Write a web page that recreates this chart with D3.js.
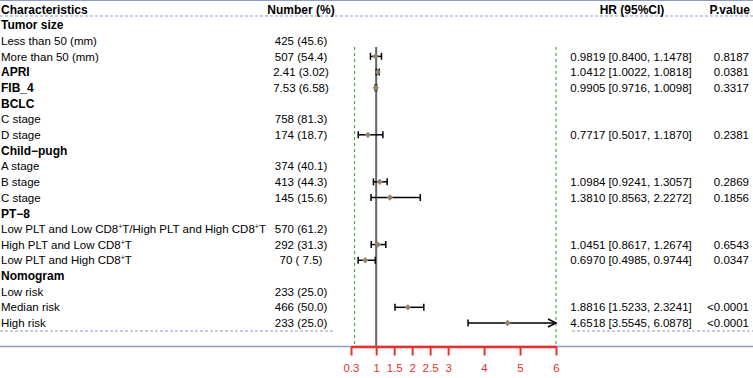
<!DOCTYPE html>
<html>
<head>
<meta charset="utf-8">
<script src="https://cdn.jsdelivr.net/npm/d3@7"></script>
<style>
  body { margin: 0; background: #fff; }
  svg { display: block; font-family: 'Liberation Sans', Arial, sans-serif; }
</style>
</head>
<body>
<script>
const W = 753;
const H = 378;

// table rows
const labels = [
  'Tumor size', 'Less than 50 (mm)', 'More than 50 (mm)', 'APRI', 'FIB_4',
  'BCLC', 'C stage', 'D stage', 'Child\u2212pugh', 'A stage', 'B stage', 'C stage',
  'PT\u22128', 'Low PLT and Low CD8\u207AT/High PLT and High CD8\u207AT',
  'High PLT and Low CD8\u207AT', 'Low PLT and High CD8\u207AT',
  'Nomogram', 'Low risk', 'Median risk', 'High risk'
];
const boldRows = [0, 3, 4, 5, 8, 12, 16];
const numbers = [
  '', '425 (45.6)', '507 (54.4)', '2.41 (3.02)', '7.53 (6.58)',
  '', '758 (81.3)', '174 (18.7)', '', '374 (40.1)', '413 (44.3)', '145 (15.6)',
  '', '570 (61.2)', '292 (31.3)', '70 ( 7.5)',
  '', '233 (25.0)', '466 (50.0)', '233 (25.0)'
];
const hr = [null, null, 0.9819, 1.0412, 0.9905, null, null, 0.7717, null, null, 1.0984, 1.3810,
  null, null, 1.0451, 0.6970, null, null, 1.8816, 4.6518];
const lower = [null, null, 0.8400, 1.0022, 0.9716, null, null, 0.5017, null, null, 0.9241, 0.8563,
  null, null, 0.8617, 0.4985, null, null, 1.5233, 3.5545];
const upper = [null, null, 1.1478, 1.0818, 1.0098, null, null, 1.1870, null, null, 1.3057, 2.2272,
  null, null, 1.2674, 0.9744, null, null, 2.3241, 6.0878];
const pvalues = ['', '', '0.8187', '0.0381', '0.3317', '', '', '0.2381', '', '', '0.2869', '0.1856',
  '', '', '0.6543', '0.0347', '', '', '<0.0001', '<0.0001'];

const xTicks = [0.3, 1, 1.5, 2, 2.5, 3, 4, 5, 6];
const guideLines = [0.4, 6];
const xMin = 0.3;
const xMax = 6;

const f4 = d3.format('.4f');
const rows = labels.map((label, i) => ({
  i, label,
  bold: boldRows.includes(i),
  num: numbers[i],
  hr: hr[i], lo: lower[i], hi: upper[i],
  p: pvalues[i]
}));

const svg = d3.select('body').append('svg').attr('width', W).attr('height', H);

const x = d3.scaleLinear().domain([xMin, xMax]).range([351, 556]);
const y = d3.scalePoint().domain(d3.range(labels.length)).range([25, 323]);

const lineBlue = '#8d9cc6';
const red = '#e8322f';

// top border and header rule
svg.append('line').attr('x1', 0).attr('x2', W).attr('y1', 0.5).attr('y2', 0.5)
  .attr('stroke', lineBlue).attr('stroke-width', 1.2);
svg.append('line').attr('x1', 0).attr('x2', W).attr('y1', 16).attr('y2', 16)
  .attr('stroke', lineBlue).attr('stroke-dasharray', '3,2');

// bottom dashed rule (table parts only)
[[0, 333], [572, W]].forEach(([a, b]) => {
  svg.append('line').attr('x1', a).attr('x2', b).attr('y1', 331).attr('y2', 331)
    .attr('stroke', lineBlue).attr('stroke-dasharray', '3,2');
});

// header
const header = svg.append('g').attr('font-weight', 'bold').attr('font-size', 12).attr('fill', '#000');
header.append('text').attr('x', 1).attr('y', 13.5).text('Characteristics');
header.append('text').attr('x', 301).attr('y', 13.5).attr('text-anchor', 'middle').text('Number (%)');
header.append('text').attr('x', 632).attr('y', 13.5).attr('text-anchor', 'middle').text('HR (95%CI)');
header.append('text').attr('x', 750).attr('y', 13.5).attr('text-anchor', 'end').text('P.value');

// label text with superscript +
const addLabel = (sel, d) => {
  const parts = d.label.split('\u207A');
  parts.forEach((part, k) => {
    if (k > 0) {
      sel.append('tspan').attr('font-size', 7).attr('dy', -4).text('+');
      sel.append('tspan').attr('dy', 4).text(part);
    } else {
      sel.append('tspan').text(part);
    }
  });
};

const rowG = svg.append('g').selectAll('g').data(rows).enter().append('g')
  .attr('transform', (d) => `translate(0, ${y(d.i)})`);

rowG.append('text')
  .attr('x', 1)
  .attr('dy', '0.36em')
  .attr('font-size', (d) => (d.bold ? 12 : 11.5))
  .attr('font-weight', (d) => (d.bold ? 'bold' : 'normal'))
  .each(function (d) { addLabel(d3.select(this), d); });

rowG.append('text')
  .attr('x', 301)
  .attr('dy', '0.36em')
  .attr('text-anchor', 'middle')
  .attr('font-size', 11.5)
  .text((d) => d.num);

rowG.filter((d) => d.hr !== null).append('text')
  .attr('x', 631)
  .attr('dy', '0.36em')
  .attr('text-anchor', 'middle')
  .attr('font-size', 11.5)
  .text((d) => `${f4(d.hr)} [${f4(d.lo)}, ${f4(d.hi)}]`);

rowG.append('text')
  .attr('x', 749)
  .attr('dy', '0.36em')
  .attr('text-anchor', 'end')
  .attr('font-size', 11.5)
  .text((d) => d.p);

// reference lines
svg.selectAll('.guide').data(guideLines).enter().append('line')
  .attr('class', 'guide')
  .attr('x1', (d) => x(d)).attr('x2', (d) => x(d))
  .attr('y1', 47).attr('y2', 346)
  .attr('stroke', '#2a9d2a').attr('stroke-width', 1).attr('stroke-dasharray', '3,3');

svg.append('line')
  .attr('x1', x(1)).attr('x2', x(1)).attr('y1', 47).attr('y2', 346)
  .attr('stroke', '#666').attr('stroke-width', 2);

// axis baseline
svg.append('line').attr('x1', 0).attr('x2', W).attr('y1', 346.5).attr('y2', 346.5)
  .attr('stroke', lineBlue).attr('stroke-width', 1.5);

const axis = svg.append('g').attr('transform', 'translate(0, 346.5)')
  .call(d3.axisBottom(x).tickValues(xTicks).tickFormat(d3.format('')).tickSize(9).tickSizeOuter(0));
axis.select('.domain').attr('stroke', red).attr('stroke-width', 2.5);
axis.selectAll('.tick line').attr('stroke', red).attr('stroke-width', 2);
axis.selectAll('.tick text').attr('fill', red).attr('font-size', 11.5)
  .attr('font-family', "'Liberation Sans', Arial, sans-serif").attr('y', 17);

// confidence intervals
const ci = svg.append('g').selectAll('g').data(rows.filter((d) => d.hr !== null)).enter().append('g')
  .attr('transform', (d) => `translate(0, ${y(d.i)})`);

ci.append('line')
  .attr('x1', (d) => x(Math.max(d.lo, xMin)))
  .attr('x2', (d) => x(Math.min(d.hi, xMax)))
  .attr('stroke', '#000').attr('stroke-width', 1.5);

ci.append('line')
  .attr('x1', (d) => x(d.lo)).attr('x2', (d) => x(d.lo))
  .attr('y1', -3.5).attr('y2', 3.5)
  .attr('stroke', '#000').attr('stroke-width', 1.5);

ci.filter((d) => d.hi <= xMax).append('line')
  .attr('x1', (d) => x(d.hi)).attr('x2', (d) => x(d.hi))
  .attr('y1', -3.5).attr('y2', 3.5)
  .attr('stroke', '#000').attr('stroke-width', 1.5);

// clipped upper ends get an arrow
ci.filter((d) => d.hi > xMax).append('path')
  .attr('d', `M${x(xMax) - 8},-4L${x(xMax)},0L${x(xMax) - 8},4`)
  .attr('fill', 'none').attr('stroke', '#000').attr('stroke-width', 1.5);

ci.append('path')
  .attr('d', d3.symbol(d3.symbolSquare, 20))
  .attr('transform', (d) => `translate(${x(d.hr)}, 0) rotate(45)`)
  .attr('fill', '#95836e');
</script>
</body>
</html>
